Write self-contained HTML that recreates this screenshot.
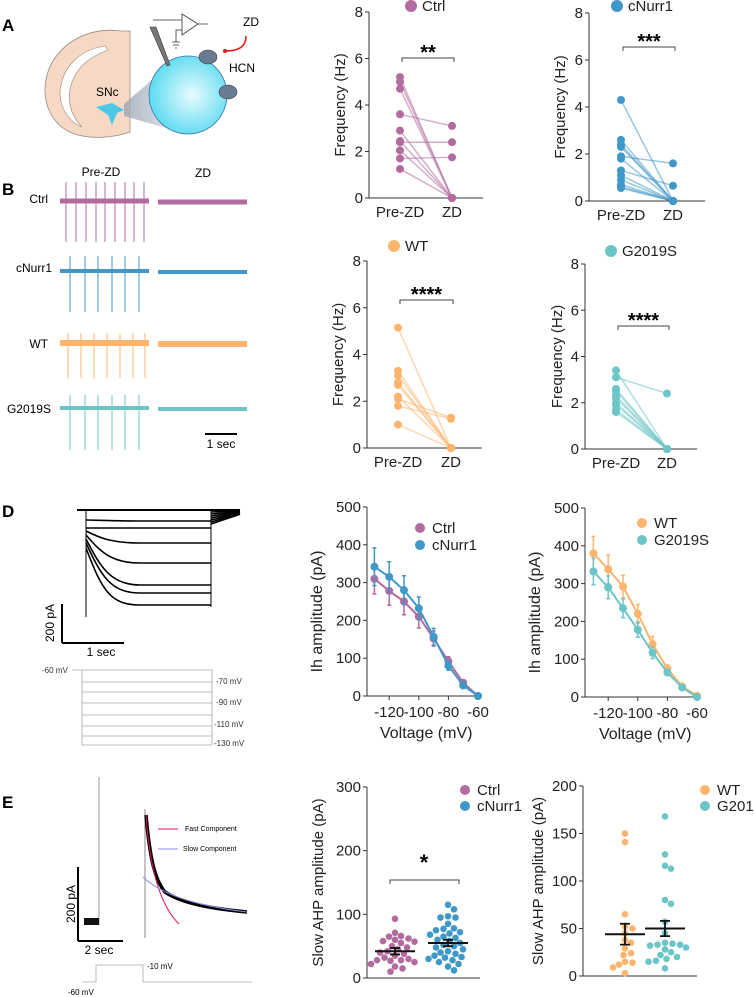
<!DOCTYPE html>
<html><head><meta charset="utf-8"><style>
html,body{margin:0;padding:0;background:#fff;}
svg{display:block;font-family:"Liberation Sans",Arial,sans-serif;}
</style></head><body>
<svg id="fig" width="754" height="997" viewBox="0 0 754 997">
<defs>
<radialGradient id="cellg" cx="0.55" cy="0.5" r="0.6"><stop offset="0" stop-color="#e8fbff"/><stop offset="1" stop-color="#4fd8ee"/></radialGradient>
<linearGradient id="coneg" x1="0" x2="1"><stop offset="0" stop-color="#9aa4b4"/><stop offset="1" stop-color="#dfe3ea"/></linearGradient>
</defs>
<!-- Panel A -->
<g>
<text x="2" y="31" font-size="17" font-weight="bold">A</text>
<path d="M120,31 C88,26 55,45 47,75 C40,102 52,128 78,135 C98,140 118,136 130,132 L130,31 Z" fill="#f6d9c4" stroke="#9a8a80" stroke-width="0.8"/>
<path d="M105,46 C78,50 62,68 60,92 C60,110 70,122 82,127 C70,115 66,98 72,82 C80,62 95,55 108,50 Z" fill="#fff" stroke="#9a8a80" stroke-width="0.6"/>
<path d="M96,107 L112,103 L124,110 L117,113 L112,125 L108,115 Z" fill="#4cc8e6"/>
<polygon points="124,104 175,60 180,132 124,116" fill="url(#coneg)" opacity="0.8"/>
<text x="96" y="96" font-size="12">SNc</text>
<circle cx="188" cy="95" r="39" fill="url(#cellg)" stroke="#3a6fb0" stroke-width="0.8"/>
<polygon points="150,27 156,27 170,65 167,66" fill="#777" stroke="#333" stroke-width="0.6"/>
<path d="M153,20 L182,20 M182,14 L182,35 L198,24 Z M198,24 L208,24 M182,30 L176,30 L176,42 M172,42 L180,42 M173,45 L179,45 M175,48 L177,48" fill="none" stroke="#333" stroke-width="0.8"/>
<ellipse cx="208" cy="57" rx="9" ry="7" fill="#6b7b92" stroke="#344" stroke-width="0.6"/>
<ellipse cx="228" cy="92" rx="9" ry="7" fill="#6b7b92" stroke="#344" stroke-width="0.6"/>
<path d="M246,36 C246,46 240,51 225,51" fill="none" stroke="#e31a1c" stroke-width="1.6"/>
<circle cx="225" cy="51" r="2" fill="#e31a1c"/>
<text x="243" y="26" font-size="12">ZD</text>
<text x="229" y="72" font-size="12">HCN</text>
</g>
<!-- Panel B -->
<g id="panelB">
<text x="2" y="195" font-size="17" font-weight="bold">B</text>
<text x="101" y="176" font-size="12" text-anchor="middle">Pre-ZD</text>
<text x="203" y="177" font-size="12" text-anchor="middle">ZD</text>
<text x="48" y="203" font-size="12" text-anchor="end">Ctrl</text>
<text x="52" y="272" font-size="12" text-anchor="end">cNurr1</text>
<text x="48" y="348" font-size="12" text-anchor="end">WT</text>
<text x="51" y="413" font-size="12" text-anchor="end">G2019S</text>
<line x1="205" y1="434" x2="237" y2="434" stroke="#000" stroke-width="2"/>
<text x="221" y="448" font-size="12" text-anchor="middle">1 sec</text>
</g>
<!-- Panel D left -->
<g id="panelD">
<text x="2" y="517" font-size="17" font-weight="bold">D</text>
<line x1="86" y1="510" x2="86" y2="617" stroke="#000" stroke-width="1"/>
<line x1="62" y1="604" x2="62" y2="643" stroke="#000" stroke-width="2"/>
<line x1="62" y1="643" x2="124" y2="643" stroke="#000" stroke-width="2"/>
<text transform="translate(54,623) rotate(-90)" font-size="12" text-anchor="middle">200 pA</text>
<text x="101" y="656" font-size="12" text-anchor="middle">1 sec</text>
<g stroke="#aaa" stroke-width="0.8" fill="none">
<path d="M72,670 L212,670 L212,745 M82,670 L82,745 M82,682 L212,682 M82,692 L212,692 M82,703 L212,703 M82,715 L212,715 M82,726 L212,726 M82,736 L212,736 M82,745 L212,745"/>
</g>
<g font-size="8" fill="#333">
<text x="42" y="673">-60 mV</text><text x="216" y="684">-70 mV</text><text x="216" y="705">-90 mV</text><text x="214" y="727">-110 mV</text><text x="214" y="746">-130 mV</text>
</g>
</g>
<!-- Panel E left -->
<g id="panelE">
<text x="2" y="808" font-size="17" font-weight="bold">E</text>
<line x1="99" y1="777" x2="99" y2="925" stroke="#999" stroke-width="1"/>
<rect x="84" y="918" width="15" height="7" fill="#111"/>
<line x1="78" y1="867" x2="78" y2="941" stroke="#000" stroke-width="2"/>
<line x1="78" y1="941" x2="123" y2="941" stroke="#000" stroke-width="2"/>
<text transform="translate(75,904) rotate(-90)" font-size="12" text-anchor="middle">200 pA</text>
<text x="99" y="954" font-size="12" text-anchor="middle">2 sec</text>
<line x1="145" y1="809" x2="145" y2="938" stroke="#888" stroke-width="1"/>
<path d="M146,815 C150,860 155,880 165,892 C180,902 205,908 247,912" fill="none" stroke="#000" stroke-width="3.5"/>
<path d="M146,815 C150,870 160,905 179,924" fill="none" stroke="#e0115f" stroke-width="1"/>
<path d="M143,877 C160,893 190,905 247,912" fill="none" stroke="#8c8cf0" stroke-width="1"/>
<line x1="158" y1="829" x2="178" y2="829" stroke="#e0115f"/>
<text x="185" y="831" font-size="7">Fast Component</text>
<line x1="158" y1="849" x2="178" y2="849" stroke="#8c8cf0"/>
<text x="183" y="851" font-size="7">Slow Component</text>
<path d="M82,982 L96,982 L96,965 L143,965 L143,982 L252,982" fill="none" stroke="#aaa" stroke-width="0.8"/>
<text x="147" y="969" font-size="8">-10 mV</text>
<text x="68" y="995" font-size="8">-60 mV</text>
</g>
</svg>
<script>
// ---- Panel C data ----
const freqTicks = [0, 2, 4, 6, 8];
const condLabels = ["Pre-ZD", "ZD"];
const ctrlPre = [5.2, 5.0, 4.7, 3.6, 2.9, 2.45, 2.4, 2.05, 1.7, 1.25];
const ctrlZD  = [0, 0, 0, 3.1, 0, 0, 2.4, 0, 1.75, 0];
const cnurrPre = [4.3, 2.6, 2.4, 2.3, 1.9, 1.8, 1.3, 1.1, 0.9, 0.7, 0.6, 0.55];
const cnurrZD  = [0, 0, 0, 0, 1.6, 0, 0.65, 0, 0, 0, 0, 0];
const wtPre = [5.15, 3.3, 3.1, 2.8, 2.7, 2.2, 2.1, 1.8, 1.0];
const wtZD  = [0, 0, 0, 0, 0, 0, 1.3, 1.25, 0];
const gsPre = [3.4, 3.1, 2.6, 2.5, 2.3, 2.2, 2.0, 1.9, 1.7, 1.6];
const gsZD  = [0, 2.4, 0, 0, 0, 0, 0, 0, 0, 0];
// ---- Panel D data ----
const voltages = [-130, -120, -110, -100, -90, -80, -70, -60];
const voltTicks = [-120, -100, -80, -60];
const ihTicks = [0, 100, 200, 300, 400, 500];
const ctrlIh = [310, 278, 250, 210, 152, 92, 35, 0];
const ctrlIhErr = [40, 38, 35, 30, 20, 12, 8, 3];
const cnurrIh = [342, 315, 280, 232, 157, 80, 28, 0];
const cnurrIhErr = [50, 40, 38, 30, 22, 12, 8, 3];
const wtIh = [380, 338, 292, 220, 140, 75, 28, 3];
const wtIhErr = [45, 38, 30, 25, 20, 10, 6, 3];
const gsIh = [332, 290, 235, 178, 117, 65, 25, 0];
const gsIhErr = [35, 30, 25, 20, 15, 8, 5, 3];
// ---- Panel E data ----
const ahpTicksL = [0, 100, 200, 300];
const ahpTicksR = [0, 50, 100, 150, 200];
const ctrlAhp = [93,71,66,65,62,60,58,57,55,50,48,45,42,40,38,35,32,30,28,28,27,25,22,18,15,10];
const cnurrAhp = [115,108,97,95,95,85,78,77,75,72,70,68,65,63,60,58,55,52,50,48,45,42,40,38,35,33,32,30,28,25,22,18,12];
const wtAhp = [150,141,65,52,50,45,38,35,29,24,22,15,14,12,9,3];
const gsAhp = [168,128,116,113,80,76,57,45,35,34,33,33,32,30,28,25,22,20,18,16,15,8];
const ahpMeans = [42, 55, 44, 50];
const ahpSems = [5, 5, 11, 8];

const NS = "http://www.w3.org/2000/svg";
const svg = document.getElementById('fig');
const COL = {ctrl:"#b36b9f", cnurr:"#3f98c8", wt:"#fdb56d", gs:"#6cc5c6"};
const FS = 15;
function mk(tag, a, parent){const e=document.createElementNS(NS,tag);for(const k in a)e.setAttribute(k,a[k]);(parent||svg).appendChild(e);return e;}
function txt(s, a, parent){const e=mk('text',a,parent);e.textContent=s;return e;}

// ---- Panel B traces (decorative) ----
(function(){
  const pb=document.getElementById('panelB');
  const rows=[
    {c:COL.ctrl,y:201,sp:[66,76,86,96,105,115,125,134,144],up:19,dn:41,h:5},
    {c:COL.cnurr,y:271,sp:[70,85,98,112,125,139],up:15,dn:41,h:4},
    {c:COL.wt,y:343,sp:[68,81,94,107,120,133,145],up:10,dn:35,h:6},
    {c:COL.gs,y:408,sp:[70,85,98,112,125,139],up:13,dn:42,h:4}];
  rows.forEach((r,ri)=>{
    const g=mk('g',{},pb);
    
    
    const a=mk('rect',{x:60,y:r.y-r.h/2,width:89,height:r.h,fill:r.c},g);
    
    
    const b=mk('rect',{x:158,y:r.y-r.h/2+1,width:89,height:r.h,fill:r.c},g);
    
    
    r.sp.forEach(x=>{
      const l=mk('line',{x1:x,x2:x,y1:r.y-r.up,y2:r.y+r.dn,stroke:r.c,'stroke-width':1},g);
      
      
    });
  });
})();

// ---- Panel D current traces ----
(function(){
  const pd=document.getElementById('panelD');
  const lv=[[510,510,510],[520,520,521],[528,528,528],[531,537,543],[535,550,563],[539,566,585],[543,575,593],[548,590,605]];
  const top=mk('path',{d:"M77,510 L240,510",stroke:"#000","stroke-width":2,fill:"none"},pd);
  
  
  const tv=mk('line',{x1:211,x2:211,y1:510,y2:607,stroke:"#000","stroke-width":1},pd);
  
  
  lv.forEach((v,i)=>{
    const [s,m,e]=v;
    const d=`M86,${s} C${95+i},${m} ${110},${e} 140,${e} L211,${e} M211,${510+i*2} L240,${510+i*0.6}`;
    const p=mk('path',{d,stroke:"#000","stroke-width":1.6,fill:"none"},pd);
    
    
  });
})();

// ---- Panel C paired plots ----
function paired(o){
  const g=mk('g',{});
  
  
  const ys=v=>o.y0-v/8*(o.y0-o.y8);
  const ax=mk('path',{d:`M${o.ax},${o.y8} L${o.ax},${o.y0} L${o.xend},${o.y0}`,fill:"none",stroke:"#333","stroke-width":1},g);
  
  
  freqTicks.forEach(t=>{
    const tl=mk('line',{x1:o.ax-4,x2:o.ax,y1:ys(t),y2:ys(t),stroke:"#333"},g);
    
    
    const tt=txt(String(t),{x:o.ax-6,y:ys(t)+5,'font-size':FS,'text-anchor':'end',fill:'#222'},g);
    
    
  });
  [o.xp,o.xz].forEach((x,i)=>{
    const t=txt(condLabels[i],{x:x,y:o.y0+19,'font-size':FS,'text-anchor':'middle',fill:'#222'},g);
    
    
  });
  const yl=txt('Frequency (Hz)',{transform:`translate(${o.ylx},${(o.y0+o.y8)/2}) rotate(-90)`,'font-size':FS,'text-anchor':'middle',fill:'#222'},g);
  
  
  o.pre.forEach((v,i)=>{
    const l=mk('line',{x1:o.xp,y1:ys(v),x2:o.xz,y2:ys(o.zd[i]),stroke:o.c,'stroke-width':1.5,opacity:0.55},g);
    
    
  });
  o.pre.forEach((v,i)=>{
    const a=mk('circle',{cx:o.xp,cy:ys(v),r:4,fill:o.c},g);
    
    
    const b=mk('circle',{cx:o.xz,cy:ys(o.zd[i]),r:4,fill:o.c},g);
    
    
  });
  const br=mk('path',{d:`M${o.xp+2},${o.by+4} L${o.xp+2},${o.by} L${o.xz+2},${o.by} L${o.xz+2},${o.by+4}`,fill:'none',stroke:'#444'},g);
  
  
  const st=txt(o.stars,{x:(o.xp+o.xz)/2+2,y:o.by+1,'font-size':20,'text-anchor':'middle','font-weight':'bold'},g);
  
  
  const ld=mk('circle',{cx:o.lx,cy:o.ly,r:6,fill:o.c},g);
  
  
  const lt=txt(o.label,{x:o.lx+11,y:o.ly+5,'font-size':FS,fill:'#222'},g);
  
  
}
paired({name:'ctrl',ax:369,y0:198,y8:12,xend:483,xp:400,xz:452,c:COL.ctrl,pre:ctrlPre,zd:ctrlZD,ylx:345,by:58,stars:'**',lx:411,ly:6,label:'Ctrl'});
paired({name:'cnurr1',ax:589,y0:201,y8:13,xend:705,xp:621,xz:673,c:COL.cnurr,pre:cnurrPre,zd:cnurrZD,ylx:565,by:47,stars:'***',lx:617,ly:6,label:'cNurr1'});
paired({name:'wt',ax:367,y0:448,y8:261,xend:482,xp:398,xz:451,c:COL.wt,pre:wtPre,zd:wtZD,ylx:343,by:300,stars:'****',lx:394,ly:246,label:'WT'});
paired({name:'g2019s',ax:585,y0:449,y8:264,xend:697,xp:616,xz:667,c:COL.gs,pre:gsPre,zd:gsZD,ylx:562,by:326,stars:'****',lx:611,ly:251,label:'G2019S'});

// ---- Panel D IV curves ----
function ivPanel(o){
  const g=mk('g',{});
  
  
  const ys=v=>o.y0-v/500*(o.y0-o.y500);
  const xs=v=>o.x60+(v+60)*o.k;
  const ax=mk('path',{d:`M${o.ax},${o.y500} L${o.ax},${o.y0} L${xs(-60)+4},${o.y0}`,fill:'none',stroke:'#333'},g);
  
  
  ihTicks.forEach(t=>{
    const l=mk('line',{x1:o.ax-4,x2:o.ax,y1:ys(t),y2:ys(t),stroke:'#333'},g);
    
    
    const tt=txt(String(t),{x:o.ax-6,y:ys(t)+5,'font-size':FS,'text-anchor':'end',fill:'#222'},g);
    
    
  });
  voltTicks.forEach(t=>{
    const l=mk('line',{x1:xs(t),x2:xs(t),y1:o.y0,y2:o.y0+4,stroke:'#333'},g);
    
    
    const tt=txt(String(t),{x:xs(t),y:o.y0+21,'font-size':FS,'text-anchor':'middle',fill:'#222'},g);
    
    
  });
  const xl=txt('Voltage (mV)',{x:xs(-95),y:o.y0+42,'font-size':16,'text-anchor':'middle',fill:'#222'},g);
  
  
  const yl=txt('Ih amplitude (pA)',{transform:`translate(${o.ax-45},${(o.y0+o.y500)/2+10}) rotate(-90)`,'font-size':16,'text-anchor':'middle',fill:'#222'},g);
  
  
  o.series.forEach((s,si)=>{
    const sg=mk('g',{},g);
    
    
    const pts=voltages.map((v,i)=>xs(v)+','+ys(s.v[i])).join(' ');
    const pl=mk('polyline',{points:pts,fill:'none',stroke:s.c,'stroke-width':2},sg);
    
    
    voltages.forEach((v,i)=>{
      const x=xs(v),y1=ys(s.v[i]+s.e[i]),y2=ys(s.v[i]-s.e[i]);
      const eb=mk('path',{d:`M${x},${y1} L${x},${y2} M${x-2},${y1} L${x+2},${y1} M${x-2},${y2} L${x+2},${y2}`,stroke:s.c,'stroke-width':1.5,fill:'none'},sg);
      
      
      const c=mk('circle',{cx:x,cy:ys(s.v[i]),r:4,fill:s.c},sg);
      
      
    });
    const ld=mk('circle',{cx:o.lx,cy:o.ly+si*17,r:5,fill:s.c},g);
    
    
    const lt=txt(s.label,{x:o.lx+12,y:o.ly+si*17+5,'font-size':FS,fill:'#222'},g);
    
    
  });
}
ivPanel({name:'ctrl-cnurr1',ax:367,y0:696,y500:507,x60:478,k:1.48,lx:420,ly:528,series:[
  {name:'ctrl',label:'Ctrl',c:COL.ctrl,v:ctrlIh,e:ctrlIhErr},
  {name:'cnurr1',label:'cNurr1',c:COL.cnurr,v:cnurrIh,e:cnurrIhErr}]});
ivPanel({name:'wt-g2019s',ax:585,y0:697,y500:508,x60:697,k:1.48,lx:642,ly:523,series:[
  {name:'wt',label:'WT',c:COL.wt,v:wtIh,e:wtIhErr},
  {name:'g2019s',label:'G2019S',c:COL.gs,v:gsIh,e:gsIhErr}]});

// ---- Panel E scatter ----
function swarm(vals, cx, ys, r){
  const placed=[];
  return vals.map(v=>{
    const y=ys(v);
    let best=cx;
    for(let k=0;k<40;k++){
      const off=(k%2?1:-1)*Math.ceil(k/2)*1.5;
      const x=cx+off;
      if(placed.every(p=>Math.hypot(p[0]-x,p[1]-y)>=2*r)){best=x;break;}
    }
    placed.push([best,y]);
    return [best,y];
  });
}
function ahpPanel(o){
  const g=mk('g',{});
  
  
  const ys=v=>o.y0-v/o.max*(o.y0-o.ytop);
  const ax=mk('path',{d:`M${o.ax},${o.ytop} L${o.ax},${o.y0} L${o.xend},${o.y0}`,fill:'none',stroke:'#333'},g);
  
  
  o.ticks.forEach(t=>{
    const l=mk('line',{x1:o.ax-4,x2:o.ax,y1:ys(t),y2:ys(t),stroke:'#333'},g);
    
    
    const tt=txt(String(t),{x:o.ax-6,y:ys(t)+5,'font-size':FS,'text-anchor':'end',fill:'#222'},g);
    
    
  });
  const yl=txt('Slow AHP amplitude (pA)',{transform:`translate(${o.ylx},${(o.y0+o.ytop)/2}) rotate(-90)`,'font-size':FS,'text-anchor':'middle',fill:'#222'},g);
  
  
  o.groups.forEach((s,si)=>{
    const sg=mk('g',{},g);
    
    
    swarm(s.v,s.cx,ys,3.3).forEach(p=>{
      const c=mk('circle',{cx:p[0],cy:p[1],r:3.3,fill:s.c},sg);
      
      
    });
    const m=ahpMeans[s.mi],e=ahpSems[s.mi];
    const ml=mk('line',{x1:s.cx-20,x2:s.cx+20,y1:ys(m),y2:ys(m),stroke:'#111','stroke-width':2},sg);
    
    
    const eb=mk('path',{d:`M${s.cx},${ys(m+e)} L${s.cx},${ys(m-e)} M${s.cx-5},${ys(m+e)} L${s.cx+5},${ys(m+e)} M${s.cx-5},${ys(m-e)} L${s.cx+5},${ys(m-e)}`,stroke:'#111','stroke-width':1.8,fill:'none'},sg);
    
    
    const ld=mk('circle',{cx:o.lx,cy:o.ly+si*16,r:5,fill:s.c},g);
    
    
    const lt=txt(s.label,{x:o.lx+12,y:o.ly+si*16+5,'font-size':FS,fill:'#222'},g);
    
    
  });
  if(o.sig){
    const br=mk('path',{d:`M390,884 L390,880 L459,880 L459,884`,fill:'none',stroke:'#444'},g);
    
    
    const st=txt('*',{x:424,y:870,'font-size':22,'text-anchor':'middle','font-weight':'bold'},g);
    
    
  }
}
ahpPanel({name:'ctrl-cnurr1',ax:367,y0:978,ytop:787,max:300,xend:480,ticks:ahpTicksL,ylx:323,lx:465,ly:790,sig:true,groups:[
  {name:'ctrl',label:'Ctrl',c:COL.ctrl,v:ctrlAhp,cx:395,mi:0},
  {name:'cnurr1',label:'cNurr1',c:COL.cnurr,v:cnurrAhp,cx:448,mi:1}]});
ahpPanel({name:'wt-g2019s',ax:583,y0:976,ytop:786,max:200,xend:697,ticks:ahpTicksR,ylx:543,lx:705,ly:790,sig:false,groups:[
  {name:'wt',label:'WT',c:COL.wt,v:wtAhp,cx:625,mi:2},
  {name:'g2019s',label:'G2019S',c:COL.gs,v:gsAhp,cx:665,mi:3}]});
</script>
</body></html>
